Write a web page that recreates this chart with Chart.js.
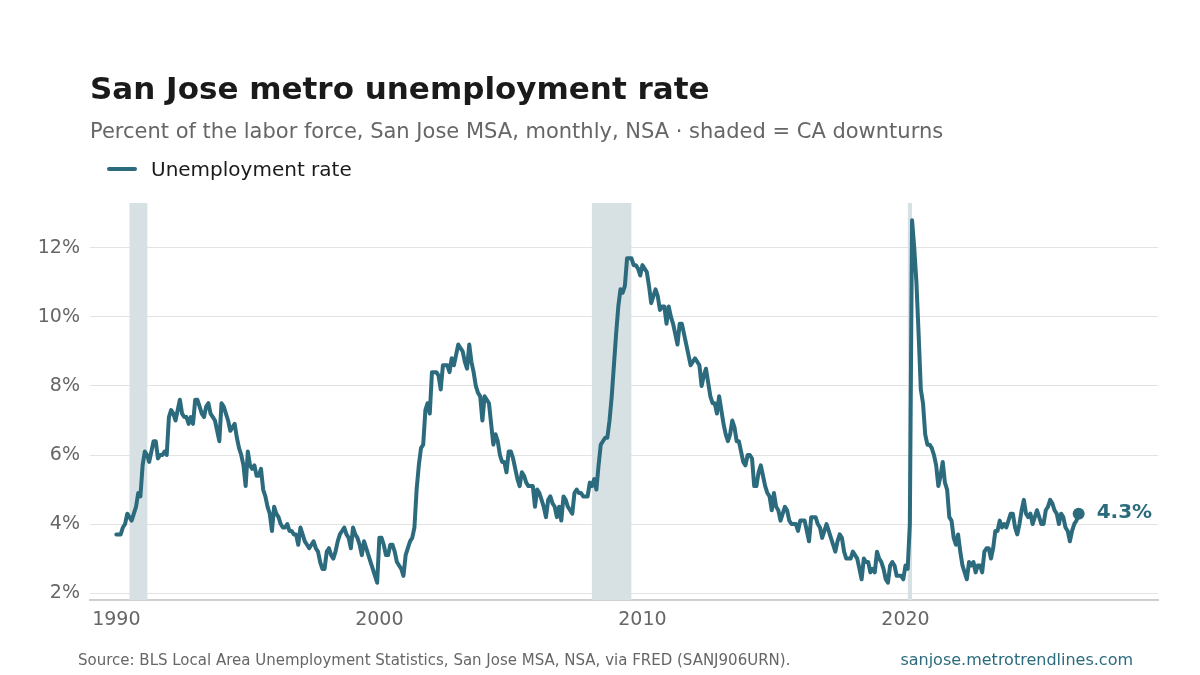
<!DOCTYPE html>
<html>
<head>
<meta charset="utf-8">
<title>San Jose metro unemployment rate</title>
<script src="https://cdn.jsdelivr.net/npm/chart.js@4.4.1/dist/chart.umd.min.js"></script>
<style>
  html, body { margin: 0; padding: 0; background: #fff; }
  body { width: 1200px; height: 675px; position: relative; overflow: hidden; font-family: "DejaVu Sans", sans-serif; }
  #chart { position: absolute; left: 0; top: 0; }
  .title { position: absolute; left: 90px; top: 70px; font-size: 31px; line-height: 36px; font-weight: bold; color: #1a1a1a; white-space: nowrap; }
  .subtitle { position: absolute; left: 90px; top: 118px; font-size: 21px; line-height: 26px; color: #666; white-space: nowrap; }
  .legend { position: absolute; left: 107px; top: 157px; height: 24px; font-size: 20px; line-height: 24px; color: #1a1a1a; white-space: nowrap; }
  .legend .swatch { position: absolute; left: 0; top: 10px; width: 30px; height: 4px; border-radius: 2px; background: #2b6b7d; }
  .legend .label { position: absolute; left: 44px; top: 0; }
  .source { position: absolute; left: 78px; top: 650px; font-size: 15px; line-height: 20px; color: #666; white-space: nowrap; }
  .site { position: absolute; right: 67px; top: 650px; font-size: 16px; line-height: 20px; color: #2b6b7d; white-space: nowrap; }
</style>
</head>
<body>
<canvas id="chart" width="1200" height="675"></canvas>
<div class="title">San Jose metro unemployment rate</div>
<div class="subtitle">Percent of the labor force, San Jose MSA, monthly, NSA · shaded = CA downturns</div>
<div class="legend"><span class="swatch"></span><span class="label">Unemployment rate</span></div>
<div class="source">Source: BLS Local Area Unemployment Statistics, San Jose MSA, NSA, via FRED (SANJ906URN).</div>
<div class="site">sanjose.metrotrendlines.com</div>

<script>
// monthly unemployment rate (%), first value = Jan 1990
const firstYear = 1990;

const rates1990s = [
  3.7, 3.7, 3.7, 3.9, 4.0, 4.3, 4.2, 4.1, 4.3, 4.5, 4.9, 4.8,
  5.7, 6.1, 6.0, 5.8, 6.1, 6.4, 6.4, 5.9, 6.0, 6.0, 6.1, 6.0,
  7.1, 7.3, 7.2, 7.0, 7.3, 7.6, 7.2, 7.1, 7.1, 6.9, 7.1, 6.9,
  7.6, 7.6, 7.4, 7.2, 7.1, 7.4, 7.5, 7.2, 7.1, 7.0, 6.7, 6.4,
  7.5, 7.4, 7.2, 7.0, 6.7, 6.8, 6.9, 6.5, 6.2, 6.0, 5.7, 5.1,
  6.1, 5.7, 5.6, 5.7, 5.4, 5.4, 5.6, 5.0, 4.8, 4.5, 4.3, 3.8,
  4.5, 4.3, 4.2, 4.0, 3.9, 3.9, 4.0, 3.8, 3.8, 3.7, 3.7, 3.4,
  3.9, 3.7, 3.5, 3.4, 3.3, 3.4, 3.5, 3.3, 3.2, 2.9, 2.7, 2.7,
  3.2, 3.3, 3.1, 3.0, 3.2, 3.5, 3.7, 3.8, 3.9, 3.7, 3.6, 3.3,
  3.9, 3.7, 3.6, 3.4, 3.1, 3.5, 3.3, 3.1, 2.9, 2.7, 2.5, 2.3
];

const rates2000s = [
  3.6, 3.6, 3.4, 3.1, 3.1, 3.4, 3.4, 3.2, 2.9, 2.8, 2.7, 2.5,
  3.1, 3.3, 3.5, 3.6, 3.9, 5.0, 5.7, 6.2, 6.3, 7.3, 7.5, 7.2,
  8.4, 8.4, 8.4, 8.3, 7.9, 8.6, 8.6, 8.6, 8.4, 8.8, 8.6, 8.9,
  9.2, 9.1, 9.0, 8.7, 8.5, 9.2, 8.7, 8.4, 8.0, 7.8, 7.7, 7.0,
  7.7, 7.6, 7.5, 6.9, 6.3, 6.6, 6.4, 6.0, 5.8, 5.8, 5.5, 6.1,
  6.1, 5.9, 5.6, 5.3, 5.1, 5.5, 5.4, 5.2, 5.1, 5.1, 5.1, 4.5,
  5.0, 4.9, 4.7, 4.5, 4.2, 4.7, 4.8, 4.6, 4.5, 4.2, 4.5, 4.1,
  4.8, 4.7, 4.5, 4.4, 4.3, 4.9, 5.0, 4.9, 4.9, 4.8, 4.8, 4.8,
  5.2, 5.1, 5.3, 5.0, 5.7, 6.3, 6.4, 6.5, 6.5, 7.0, 7.7, 8.6,
  9.5, 10.3, 10.8, 10.7, 10.9, 11.7, 11.7, 11.7, 11.5, 11.5, 11.4, 11.2
];

const rates2010s = [
  11.5, 11.4, 11.3, 10.9, 10.4, 10.6, 10.8, 10.6, 10.2, 10.3, 10.3, 9.8,
  10.3, 10.0, 9.8, 9.5, 9.2, 9.8, 9.8, 9.5, 9.2, 8.9, 8.6, 8.7,
  8.8, 8.7, 8.6, 8.0, 8.3, 8.5, 8.1, 7.7, 7.5, 7.5, 7.2, 7.7,
  7.3, 6.9, 6.6, 6.4, 6.6, 7.0, 6.8, 6.4, 6.4, 6.1, 5.8, 5.7,
  6.0, 6.0, 5.9, 5.1, 5.1, 5.5, 5.7, 5.4, 5.1, 4.9, 4.8, 4.4,
  4.9, 4.5, 4.4, 4.1, 4.3, 4.5, 4.4, 4.1, 4.0, 4.0, 4.0, 3.8,
  4.1, 4.1, 4.1, 3.8, 3.5, 4.2, 4.2, 4.2, 4.0, 3.9, 3.6, 3.8,
  4.0, 3.8, 3.6, 3.4, 3.2, 3.5, 3.7, 3.6, 3.2, 3.0, 3.0, 3.0,
  3.2, 3.1, 3.0, 2.7, 2.4, 3.0, 2.9, 2.9, 2.6, 2.7, 2.6, 3.2,
  3.0, 2.9, 2.7, 2.4, 2.3, 2.8, 2.9, 2.8, 2.5, 2.5, 2.5, 2.4
];

const rates2020s = [
  2.8, 2.7, 4.0, 12.8, 12.0, 11.0, 9.5, 7.9, 7.5, 6.6, 6.3, 6.3,
  6.2, 6.0, 5.7, 5.1, 5.4, 5.8, 5.2, 5.0, 4.2, 4.1, 3.6, 3.4,
  3.7, 3.2, 2.8, 2.6, 2.4, 2.9, 2.8, 2.9, 2.6, 2.8, 2.8, 2.6,
  3.2, 3.3, 3.3, 3.0, 3.3, 3.8, 3.8, 4.1, 3.9, 4.0, 3.9, 4.1,
  4.3, 4.3, 3.9, 3.7, 4.0, 4.4, 4.7, 4.3, 4.2, 4.3, 4.0, 4.2,
  4.4, 4.2, 4.0, 4.0, 4.4, 4.5, 4.7, 4.6, 4.4, 4.3, 4.0, 4.3,
  4.2, 3.9, 3.8, 3.5, 3.8, 4.0, 4.1, 4.3
];

// CA downturns (decimal years)
const downturnStarts = [1990.5, 2008.08, 2020.09];
const downturnEnds   = [1991.18, 2009.58, 2020.25];

const xTicks = [1990, 2000, 2010, 2020];
const yTicks = [2, 4, 6, 8, 10, 12];

const teal = '#2b6b7d';
const fontFamily = '"DejaVu Sans", sans-serif';

const allRates = rates1990s.concat(rates2000s, rates2010s, rates2020s);
const points = allRates.map(function(v, i) {
  return { x: firstYear + i / 12, y: v };
});
const lastIndex = points.length - 1;

// grey bands behind the line
const bandsPlugin = {
  id: 'bands',
  beforeDatasetsDraw: function(chart) {
    const c = chart.ctx, area = chart.chartArea, xs = chart.scales.x;
    c.save();
    c.fillStyle = '#d7e0e3';
    for (var i = 0; i < downturnStarts.length; i++) {
      var x0 = xs.getPixelForValue(downturnStarts[i]);
      var x1 = xs.getPixelForValue(downturnEnds[i]);
      c.fillRect(x0, area.top, x1 - x0, area.bottom - area.top);
    }
    c.restore();
  }
};

// value label next to the last point
const endLabelPlugin = {
  id: 'endLabel',
  afterDatasetsDraw: function(chart) {
    const meta = chart.getDatasetMeta(0);
    const pt = meta.data[lastIndex];
    const c = chart.ctx;
    c.save();
    c.font = 'bold 20px ' + fontFamily;
    c.fillStyle = teal;
    c.textAlign = 'left';
    c.textBaseline = 'middle';
    c.fillText(allRates[lastIndex].toFixed(1) + '%', pt.x + 18, pt.y - 1);
    c.restore();
  }
};

new Chart(document.getElementById('chart'), {
  type: 'line',
  data: {
    datasets: [{
      label: 'Unemployment rate',
      data: points,
      borderColor: teal,
      backgroundColor: teal,
      borderWidth: 4,
      borderJoinStyle: 'round',
      borderCapStyle: 'round',
      tension: 0,
      pointRadius: function(ctx) { return ctx.dataIndex === lastIndex ? 6 : 0; },
      pointBorderWidth: 0,
      pointBackgroundColor: teal,
      pointHoverRadius: 0,
      pointHitRadius: 0
    }]
  },
  options: {
    responsive: false,
    animation: false,
    devicePixelRatio: 1,
    layout: { padding: { left: 0, top: 203, right: 42, bottom: 35 } },
    plugins: {
      legend: { display: false },
      tooltip: { enabled: false }
    },
    scales: {
      x: {
        type: 'linear',
        min: 1989,
        max: 2029.6,
        afterBuildTicks: function(scale) { scale.ticks = xTicks.map(function(v) { return { value: v }; }); },
        afterFit: function(scale) { scale.height = 40; },
        grid: { display: false, drawTicks: false },
        border: { display: true, color: '#cfcfcf', width: 2 },
        ticks: {
          color: '#666',
          font: { family: fontFamily, size: 19 },
          padding: 9,
          maxRotation: 0,
          callback: function(v) { return String(v); }
        }
      },
      y: {
        min: 1.8,
        max: 13.3,
        afterBuildTicks: function(scale) { scale.ticks = yTicks.map(function(v) { return { value: v }; }); },
        afterFit: function(scale) { scale.width = 90; },
        grid: { color: '#e3e3e3', lineWidth: 1, drawTicks: false },
        border: { display: false },
        ticks: {
          color: '#666',
          font: { family: fontFamily, size: 19 },
          padding: 10,
          callback: function(v) { return v + '%'; }
        }
      }
    }
  },
  plugins: [bandsPlugin, endLabelPlugin]
});
</script>
</body>
</html>
